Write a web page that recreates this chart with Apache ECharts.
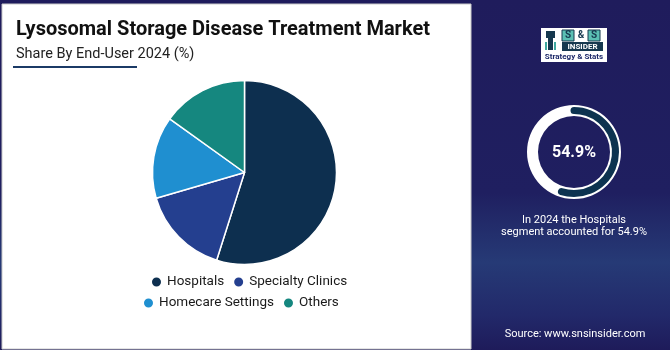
<!DOCTYPE html>
<html><head><meta charset="utf-8">
<script src="https://cdn.jsdelivr.net/npm/echarts@6/dist/echarts.min.js"></script>
<style>html,body{margin:0;padding:0;background:#1f1c5c;}#c{width:670px;height:350px;}</style>
</head><body><div id="c"></div>
<script>
const categories = ["Hospitals", "Specialty Clinics", "Homecare Settings", "Others"];
const shares = [54.9, 15.6, 14.4, 15.1];
const colors = ["#0d2f4f", "#243f8f", "#1f8fd0", "#15877f"];
const highlightValue = 54.9;
const titleText = "Lysosomal Storage Disease Treatment Market";
const subtitleText = "Share By End-User 2024 (%)";

const chart = echarts.init(document.getElementById('c'), null, {renderer: 'canvas'});
const FONT = 'Roboto';
chart.setOption({
  animation: false,
  backgroundColor: {
    type: 'linear', x: 0, y: 0, x2: 0, y2: 1,
    colorStops: [
      {offset: 0, color: '#1f1c5c'},
      {offset: 0.55, color: '#1f1f60'},
      {offset: 0.75, color: '#263a76'},
      {offset: 0.9, color: '#22296a'},
      {offset: 1, color: '#1e1b5a'}
    ]
  },
  graphic: [
    {type: 'rect', shape: {x: 2, y: 4, width: 469, height: 345}, style: {fill: '#ffffff', stroke: '#c9c9c9', lineWidth: 1}, z: -10},
    {type: 'rect', shape: {x: 13, y: 66, width: 124, height: 2}, style: {fill: '#1b3a66'}},
    // logo
    {type: 'rect', shape: {x: 541, y: 28, width: 66, height: 34}, style: {fill: '#ffffff'}},
    {type: 'rect', shape: {x: 546, y: 31, width: 9, height: 7}, style: {fill: '#16384f'}},
    {type: 'rect', shape: {x: 548, y: 38, width: 5, height: 12}, style: {fill: '#16384f'}},
    {type: 'rect', shape: {x: 545, y: 42, width: 2, height: 8}, style: {fill: '#3fa8a0'}},
    {type: 'rect', shape: {x: 554, y: 42, width: 2, height: 8}, style: {fill: '#3fa8a0'}},
    {type: 'rect', shape: {x: 562, y: 30, width: 12, height: 11}, style: {fill: '#5bc0b4', stroke: '#16384f', lineWidth: 1}},
    {type: 'text', style: {x: 568, y: 35.5, text: 'S', fill: '#16384f', font: 'bold 10px ' + FONT, align: 'center', verticalAlign: 'middle'}},
    {type: 'text', style: {x: 581, y: 35.5, text: '&', fill: '#16384f', font: 'bold 10px ' + FONT, align: 'center', verticalAlign: 'middle'}},
    {type: 'rect', shape: {x: 588, y: 30, width: 12, height: 11}, style: {fill: '#5bc0b4', stroke: '#16384f', lineWidth: 1}},
    {type: 'text', style: {x: 594, y: 35.5, text: 'S', fill: '#16384f', font: 'bold 10px ' + FONT, align: 'center', verticalAlign: 'middle'}},
    {type: 'rect', shape: {x: 562, y: 42, width: 41, height: 9}, style: {fill: '#16384f'}},
    {type: 'text', style: {x: 582.5, y: 46.5, text: 'INSIDER', fill: '#ffffff', font: 'bold 8px ' + FONT, align: 'center', verticalAlign: 'middle'}},
    {type: 'text', style: {x: 574, y: 56.5, text: 'Strategy & Stats', fill: '#1e2a6a', font: 'bold 8px ' + FONT, align: 'center', verticalAlign: 'middle'}},
    // right texts
    {type: 'text', style: {x: 574, y: 153, text: highlightValue.toFixed(1) + '%', fill: '#ffffff', font: 'bold 16px ' + FONT, align: 'center', verticalAlign: 'middle'}},
    {type: 'text', style: {x: 574, y: 220, text: 'In 2024 the Hospitals', fill: '#ffffff', font: '11px ' + FONT, align: 'center', verticalAlign: 'middle'}},
    {type: 'text', style: {x: 574, y: 232, text: 'segment accounted for ' + highlightValue.toFixed(1) + '%', fill: '#ffffff', font: '11px ' + FONT, align: 'center', verticalAlign: 'middle'}},
    {type: 'text', style: {x: 575, y: 334, text: 'Source: www.snsinsider.com', fill: '#ffffff', font: '11px ' + FONT, align: 'center', verticalAlign: 'middle'}}
  ],
  title: {
    text: titleText,
    subtext: subtitleText,
    left: 11, top: 15,
    itemGap: 7,
    textStyle: {fontFamily: FONT, fontWeight: 'bold', fontSize: 20, color: '#111111'},
    subtextStyle: {fontFamily: FONT, fontSize: 14.5, color: '#222222'}
  },
  legend: [
    {
      data: categories.slice(0, 2), left: 150, top: 275, padding: 0,
      icon: 'circle', itemWidth: 11, itemHeight: 11, itemGap: 8,
      textStyle: {fontFamily: FONT, fontSize: 13.5, color: '#1a1a1a'}
    },
    {
      data: categories.slice(2), left: 142, top: 296, padding: 0,
      icon: 'circle', itemWidth: 11, itemHeight: 11, itemGap: 8,
      textStyle: {fontFamily: FONT, fontSize: 13.5, color: '#1a1a1a'}
    }
  ],
  series: [
    {
      type: 'pie', center: [244.5, 172.5], radius: [0, 92], startAngle: 90, clockwise: true,
      label: {show: false}, labelLine: {show: false},
      itemStyle: {borderColor: '#ffffff', borderWidth: 1.5},
      data: categories.map((c, i) => ({name: c, value: shares[i], itemStyle: {color: colors[i]}}))
    },
    {
      type: 'gauge', center: [574, 152], radius: 47, startAngle: 90, endAngle: -270, min: 0, max: 100,
      axisLine: {lineStyle: {width: 11, color: [[1, '#ffffff']]}},
      progress: {show: false}, pointer: {show: false}, axisTick: {show: false}, splitLine: {show: false},
      axisLabel: {show: false}, detail: {show: false}, title: {show: false},
      data: [{value: 0}]
    },
    {
      type: 'gauge', center: [574, 152], radius: 45, startAngle: 90, endAngle: -270, min: 0, max: 100,
      axisLine: {lineStyle: {width: 7, color: [[1, 'rgba(0,0,0,0)']]}},
      progress: {show: true, width: 7, roundCap: true, itemStyle: {color: '#0d3350'}},
      pointer: {show: false}, axisTick: {show: false}, splitLine: {show: false},
      axisLabel: {show: false}, detail: {show: false}, title: {show: false},
      data: [{value: highlightValue}]
    }
  ]
});
</script></body></html>
